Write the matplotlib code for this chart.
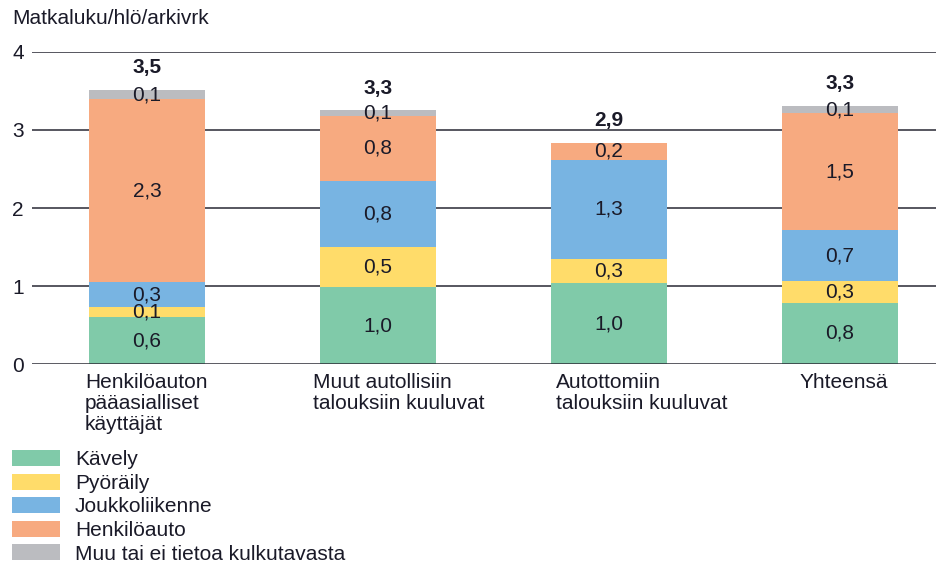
import matplotlib
matplotlib.use("Agg")
from matplotlib import pyplot as plt

plt.rcParams["font.family"] = ["Liberation Sans", "DejaVu Sans"]
plt.rcParams["font.size"] = 15

kategoriat = ["Henkilöauton\npääasialliset\nkäyttäjät",
              "Muut autollisiin\ntalouksiin kuuluvat",
              "Autottomiin\ntalouksiin kuuluvat",
              "Yhteensä"]
sarjat = ["Kävely", "Pyöräily", "Joukkoliikenne", "Henkilöauto", "Muu tai ei tietoa kulkutavasta"]

kavely = [0.60, 0.99, 1.04, 0.79]
pyoraily = [0.13, 0.51, 0.31, 0.27]
joukko = [0.32, 0.85, 1.27, 0.66]
henkiloauto = [2.34, 0.83, 0.21, 1.49]
muu = [0.12, 0.07, 0.0, 0.10]

kavely_txt = ["0,6", "1,0", "1,0", "0,8"]
pyoraily_txt = ["0,1", "0,5", "0,3", "0,3"]
joukko_txt = ["0,3", "0,8", "1,3", "0,7"]
henkiloauto_txt = ["2,3", "0,8", "0,2", "1,5"]
muu_txt = ["0,1", "0,1", "", "0,1"]
yhteensa_txt = ["3,5", "3,3", "2,9", "3,3"]

varit = ["#80caa9", "#ffdc6a", "#78b4e2", "#f7aa80", "#bbbcc0"]
tekstivari = "#1a1a28"

fig = plt.figure(figsize=(9.36, 5.65), dpi=100)
ax = fig.add_axes([32 / 936, 1 - 364.3 / 565, 1 - 32 / 936, (364.3 - 51.7) / 565])

x = list(range(len(kategoriat)))
pohja = [0.0] * len(x)
arvot = [kavely, pyoraily, joukko, henkiloauto, muu]
tekstit = [kavely_txt, pyoraily_txt, joukko_txt, henkiloauto_txt, muu_txt]
for nimi, arvo, txt, vari in zip(sarjat, arvot, tekstit, varit):
    bars = ax.bar(x, arvo, bottom=pohja, width=0.502, color=vari, label=nimi, zorder=2)
    for i, b in enumerate(bars):
        if txt[i]:
            ax.text(b.get_x() + b.get_width() / 2, pohja[i] + arvo[i] / 2, txt[i],
                    ha="center", va="center", color=tekstivari, zorder=3)
    pohja = [p + a for p, a in zip(pohja, arvo)]

for i in x:
    ax.annotate(yhteensa_txt[i], (i, pohja[i]), xytext=(0, 16), textcoords="offset points",
                ha="center", va="center", fontweight="bold", color=tekstivari)

# kategorianimet hieman eri kohdissa kuin alkuperäisessä
siirto = [-0.017, -0.03, 0.022, 0.078]
for i in x:
    ax.annotate(kategoriat[i], (i - 0.251 + siirto[i], 0), xytext=(0, -6), textcoords="offset points",
                ha="left", va="top", color=tekstivari, linespacing=1.15,
                annotation_clip=False)

ax.set_xlim(-0.498, 3.416)
ax.set_ylim(0, 4)
ax.set_yticks([0, 1, 2, 3, 4])
ax.set_yticklabels(["0", "1", "2", "3", "4"], color=tekstivari)
ax.tick_params(axis="y", length=0, pad=6)
ax.set_xticks([])
for s in ax.spines.values():
    s.set_visible(False)
for yy in [1, 2, 3, 4]:
    ax.axhline(yy, color="#3a3a44", lw=1.2, zorder=1)
ax.axhline(0, color="#2a2a34", lw=1.8, zorder=4)
ax.set_axisbelow(True)

fig.text(12 / 936, 1 - 18 / 565, "Matkaluku/hlö/arkivrk", ha="left", va="center",
         color=tekstivari)

fig.legend(loc="upper left", bbox_to_anchor=(12 / 936, 1 - 450 / 565), frameon=False,
           borderpad=0, borderaxespad=0, handlelength=2.3, handleheight=0.8,
           labelspacing=0.21, handletextpad=0.72, labelcolor=tekstivari)

fig.savefig("out.png", dpi=100)
